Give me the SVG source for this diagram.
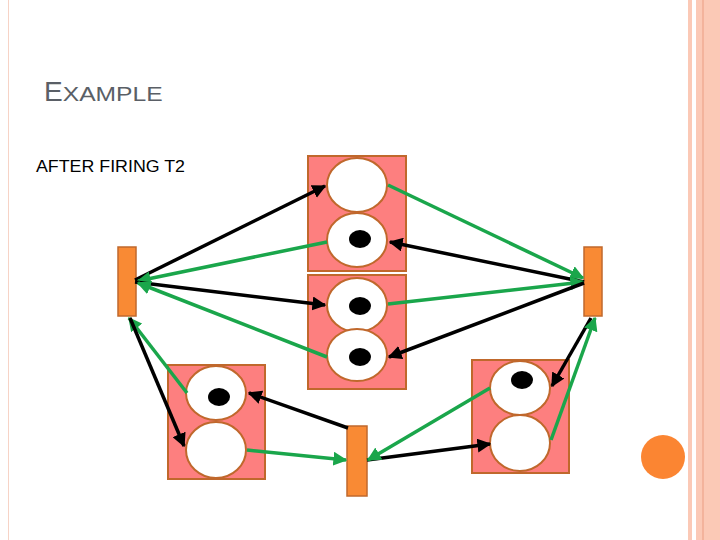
<svg xmlns="http://www.w3.org/2000/svg" width="720" height="540" viewBox="0 0 720 540">
<defs>
<marker id="ab" viewBox="0 0 10 10" refX="9" refY="5" markerWidth="4" markerHeight="4" orient="auto-start-reverse" markerUnits="strokeWidth"><path d="M0,0L10,5L0,10z" fill="#000"/></marker>
<marker id="ag" viewBox="0 0 10 10" refX="9" refY="5" markerWidth="4" markerHeight="4" orient="auto-start-reverse" markerUnits="strokeWidth"><path d="M0,0L10,5L0,10z" fill="#1aa64b"/></marker>
</defs>
<style>
.box{fill:#fd7f7f;stroke:#c0682c;stroke-width:2}
.pl{fill:#fff;stroke:#c0682c;stroke-width:2}
.tk{fill:#000}
.tr{fill:#f98a34;stroke:#c0682c;stroke-width:1.5}
.b{stroke:#000;stroke-width:3.5;fill:none;marker-end:url(#ab)}
.g{stroke:#1aa64b;stroke-width:3.5;fill:none;marker-end:url(#ag)}
</style>
<rect width="720" height="540" fill="#fff"/>
<rect x="8" y="0" width="1" height="540" fill="#f7d3c6"/>
<rect x="688" y="0" width="4" height="540" fill="#fbc9b6"/>
<rect x="696" y="0" width="24" height="540" fill="#fbc9b6"/>
<rect x="702" y="0" width="2" height="540" fill="#f3b39c"/>
<circle cx="663" cy="457" r="22" fill="#fb8532"/>
<text x="44" y="101" font-family="Liberation Sans, sans-serif" fill="#5a5f66"><tspan font-size="28">E</tspan><tspan font-size="21" textLength="100" lengthAdjust="spacingAndGlyphs">XAMPLE</tspan></text>
<text x="36" y="172" font-family="Liberation Sans, sans-serif" font-size="17" fill="#000" textLength="149" lengthAdjust="spacingAndGlyphs">AFTER FIRING T2</text>
<g id="pTop"><rect class="box" x="308" y="156" width="98" height="115"/><ellipse class="pl" cx="357" cy="185" rx="30" ry="27"/><ellipse class="pl" cx="357" cy="240" rx="30" ry="27"/><ellipse class="tk" cx="360" cy="239" rx="11" ry="9"/></g>
<g id="pMid"><rect class="box" x="308" y="275" width="98" height="114"/><ellipse class="pl" cx="357" cy="305" rx="30" ry="27"/><ellipse class="pl" cx="357" cy="355" rx="30" ry="26"/><ellipse class="tk" cx="360" cy="306" rx="11" ry="9"/><ellipse class="tk" cx="360" cy="357" rx="11" ry="9"/></g>
<g id="pBL"><rect class="box" x="168" y="365" width="97" height="114"/><ellipse class="pl" cx="216" cy="393" rx="30" ry="27"/><ellipse class="pl" cx="216" cy="450" rx="30" ry="28"/><ellipse class="tk" cx="219" cy="397" rx="11" ry="9"/></g>
<g id="pBR"><rect class="box" x="472" y="360" width="97" height="113"/><ellipse class="pl" cx="520" cy="388" rx="30" ry="27"/><ellipse class="pl" cx="520" cy="443" rx="30" ry="28"/><ellipse class="tk" cx="522" cy="380" rx="11" ry="9"/></g>
<g id="tL"><rect class="tr" x="118" y="247" width="18" height="69"/></g>
<g id="tR"><rect class="tr" x="584" y="247" width="18" height="69"/></g>
<g id="tB"><rect class="tr" x="347" y="426" width="20" height="70"/></g>
<g id="connectors">
<line class="b" x1="135" y1="280" x2="325" y2="186"/>
<line class="g" x1="327" y1="242" x2="138" y2="281"/>
<line class="b" x1="135" y1="282" x2="325" y2="305"/>
<line class="g" x1="327" y1="357" x2="138" y2="283"/>
<line class="g" x1="388" y1="185" x2="583" y2="278"/>
<line class="b" x1="584" y1="282" x2="390" y2="242"/>
<line class="g" x1="388" y1="304" x2="583" y2="282"/>
<line class="b" x1="584" y1="283" x2="389" y2="357"/>
<line class="g" x1="187" y1="393" x2="129" y2="318"/>
<line class="b" x1="130" y1="318" x2="184" y2="446"/>
<line class="b" x1="348" y1="428" x2="249" y2="393"/>
<line class="g" x1="247" y1="450" x2="346" y2="460"/>
<line class="b" x1="367" y1="460" x2="490" y2="444"/>
<line class="g" x1="490" y1="388" x2="368" y2="460"/>
<line class="b" x1="591" y1="318" x2="552" y2="386"/>
<line class="g" x1="551" y1="440" x2="595" y2="318"/>
</g>
</svg>
